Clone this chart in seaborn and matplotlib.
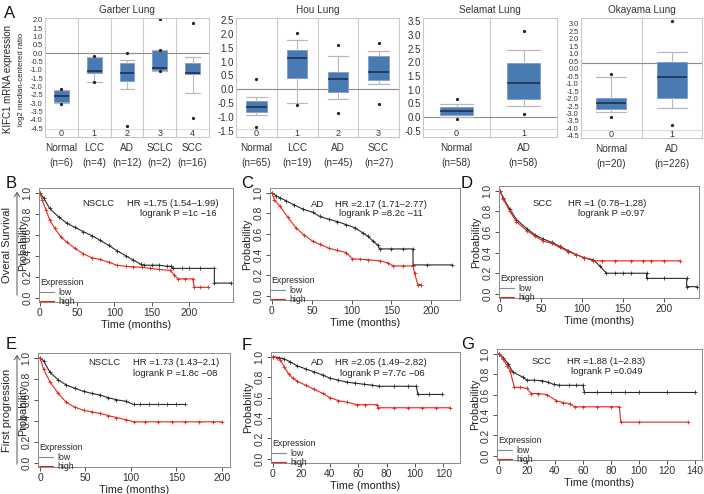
import numpy as np
import pandas as pd
import matplotlib
matplotlib.use("Agg")
import matplotlib.pyplot as plt
import matplotlib.transforms as mtransforms
from matplotlib.lines import Line2D
from matplotlib.patches import FancyArrowPatch
import seaborn as sns

# ---------------- Panel A : Oncomine box plots ----------------
garber_cats = ["Normal", "LCC", "AD", "SCLC", "SCC"]
garber_n = [6, 4, 12, 2, 16]
garber_q1 = [-2.95, -1.20, -1.69, -1.02, -1.27]
garber_med = [-2.59, -1.08, -1.20, -0.90, -1.20]
garber_q3 = [-2.23, -0.24, -0.60, 0.18, -0.60]
garber_wlo = [-3.00, -1.72, -2.17, -1.05, -2.40]
garber_whi = [-2.20, -0.20, -0.42, 0.20, -0.24]
garber_fliers = [[-2.15, -3.07], [-0.18, -1.75], [0.0, -4.4], [0.22, -1.07, 2.08], [1.8, -3.9]]

hou_cats = ["Normal", "LCC", "AD", "SCC"]
hou_n = [65, 19, 45, 27]
hou_q1 = [-0.82, 0.39, -0.11, 0.32]
hou_med = [-0.64, 1.14, 0.36, 0.64]
hou_q3 = [-0.43, 1.43, 0.64, 1.21]
hou_wlo = [-0.93, -0.50, -0.36, 0.18]
hou_whi = [-0.29, 1.79, 1.21, 1.39]
hou_fliers = [[0.36, -1.36], [2.04, -0.57], [1.60, -0.86], [1.68, -0.54]]

sel_cats = ["Normal", "AD"]
sel_n = [58, 58]
sel_q1 = [0.07, 0.65]
sel_med = [0.22, 1.24]
sel_q3 = [0.36, 1.96]
sel_wlo = [0.00, 0.40]
sel_whi = [0.47, 2.44]
sel_fliers = [[0.65, -0.07], [3.13, 0.11]]

oka_cats = ["Normal", "AD"]
oka_n = [20, 226]
oka_q1 = [-2.69, -1.96]
oka_med = [-2.29, -0.55]
oka_q3 = [-1.96, 0.45]
oka_wlo = [-2.89, -2.63]
oka_whi = [-0.55, 1.12]
oka_fliers = [[-0.35, -3.23], [3.20, -3.76]]

# ---------------- Panels B-G : Kaplan-Meier curves ----------------
b_low_t = [0, 5, 13, 25, 36, 47, 58, 70, 80, 92, 103, 115, 125, 135, 140, 150, 160, 170, 176, 178, 190, 200, 215, 234, 234, 256]
b_low_p = [1.0, 0.95, 0.85, 0.77, 0.71, 0.67, 0.63, 0.59, 0.55, 0.50, 0.45, 0.40, 0.36, 0.32, 0.31, 0.31, 0.31, 0.30, 0.30, 0.28, 0.28, 0.28, 0.28, 0.28, 0.14, 0.14]
b_high_t = [0, 3, 8, 13, 20, 28, 36, 47, 58, 70, 80, 92, 103, 115, 125, 137, 148, 160, 175, 180, 185, 195, 205, 207, 215, 226]
b_high_p = [1.0, 0.93, 0.84, 0.74, 0.66, 0.58, 0.53, 0.47, 0.42, 0.38, 0.365, 0.34, 0.31, 0.30, 0.295, 0.29, 0.28, 0.27, 0.26, 0.22, 0.18, 0.18, 0.18, 0.10, 0.10, 0.10]

c_low_t = [0, 5, 10, 18, 28, 39, 51, 60, 72, 82, 93, 104, 114, 120, 127, 133, 135, 150, 165, 177, 177, 195, 226]
c_low_p = [1.0, 0.97, 0.95, 0.92, 0.88, 0.84, 0.81, 0.77, 0.74, 0.72, 0.69, 0.66, 0.61, 0.58, 0.53, 0.49, 0.455, 0.455, 0.455, 0.455, 0.30, 0.30, 0.30]
c_high_t = [0, 3, 10, 20, 30, 40, 51, 60, 72, 82, 93, 101, 110, 120, 135, 145, 152, 165, 177, 179, 183, 187]
c_high_p = [1.0, 0.93, 0.87, 0.76, 0.66, 0.59, 0.53, 0.50, 0.46, 0.44, 0.42, 0.36, 0.355, 0.35, 0.34, 0.32, 0.29, 0.29, 0.29, 0.22, 0.11, 0.11]

d_low_t = [0, 4, 12, 20, 33, 43, 53, 63, 73, 83, 93, 103, 114, 122, 130, 140, 150, 160, 179, 179, 200, 228, 228, 240]
d_low_p = [1.0, 0.93, 0.82, 0.72, 0.63, 0.57, 0.53, 0.50, 0.46, 0.42, 0.38, 0.35, 0.33, 0.27, 0.20, 0.20, 0.20, 0.20, 0.20, 0.15, 0.15, 0.15, 0.07, 0.07]
d_high_t = [0, 4, 12, 20, 33, 43, 53, 63, 73, 83, 93, 103, 114, 125, 140, 160, 175, 185, 200, 220]
d_high_p = [1.0, 0.92, 0.80, 0.70, 0.61, 0.56, 0.51, 0.49, 0.45, 0.41, 0.38, 0.35, 0.32, 0.32, 0.32, 0.32, 0.32, 0.32, 0.32, 0.32]

e_low_t = [0, 4, 11, 20, 29, 38, 48, 57, 66, 75, 84, 95, 103, 110, 120, 130, 140, 150, 160]
e_low_p = [1.0, 0.97, 0.86, 0.79, 0.74, 0.71, 0.68, 0.66, 0.645, 0.62, 0.60, 0.585, 0.555, 0.555, 0.555, 0.555, 0.555, 0.555, 0.555]
e_high_t = [0, 4, 11, 20, 29, 38, 48, 57, 66, 75, 84, 95, 103, 115, 130, 145, 160, 175, 190, 200]
e_high_p = [1.0, 0.89, 0.77, 0.66, 0.575, 0.53, 0.50, 0.485, 0.47, 0.45, 0.43, 0.41, 0.39, 0.39, 0.39, 0.39, 0.39, 0.39, 0.39, 0.39]

f_low_t = [0, 4, 7.5, 12, 17, 23, 29, 35, 40, 46, 52, 58, 64, 70, 75, 85, 95, 101, 102, 110, 119]
f_low_p = [1.0, 0.99, 0.98, 0.95, 0.91, 0.88, 0.85, 0.82, 0.79, 0.77, 0.75, 0.74, 0.73, 0.72, 0.71, 0.71, 0.71, 0.71, 0.63, 0.63, 0.63]
f_high_t = [0, 3, 5, 8, 11, 14, 17, 23, 29, 35, 40, 46, 52, 59, 65, 73, 74, 85, 95, 105, 115, 125]
f_high_p = [1.0, 0.99, 0.97, 0.90, 0.83, 0.79, 0.76, 0.72, 0.68, 0.64, 0.60, 0.57, 0.555, 0.53, 0.53, 0.53, 0.50, 0.50, 0.50, 0.50, 0.50, 0.50]

g_low_t = [0, 3, 6.5, 10, 17, 20, 25, 31, 35, 39, 43, 50, 55, 60, 61, 70, 80, 90, 100, 120, 140]
g_low_p = [1.0, 0.96, 0.90, 0.82, 0.77, 0.74, 0.74, 0.735, 0.72, 0.70, 0.69, 0.69, 0.69, 0.69, 0.62, 0.62, 0.62, 0.62, 0.62, 0.62, 0.62]
g_high_t = [0, 3, 6, 8, 11, 15, 20, 23, 28, 34, 41, 46, 51, 54, 60, 70, 80, 86, 87, 100, 135]
g_high_p = [1.0, 0.945, 0.88, 0.83, 0.67, 0.67, 0.66, 0.61, 0.61, 0.60, 0.54, 0.52, 0.51, 0.48, 0.48, 0.48, 0.48, 0.48, 0.33, 0.33, 0.33]

km_subtypes = ["NSCLC", "AD", "SCC", "NSCLC", "AD", "SCC"]
km_hr = ["HR =1.75 (1.54\u20131.99)", "HR =2.17 (1.71\u20132.77)", "HR =1 (0.78\u20131.28)",
         "HR =1.73 (1.43\u20132.1)", "HR =2.05 (1.49\u20132.82)", "HR =1.88 (1\u20132.83)"]
km_p = ["logrank P =1c \u221216", "logrank P =8.2c \u221211", "logrank P =0.97",
        "logrank P =1.8c \u221208", "logrank P =7.7c \u221206", "logrank P =0.049"]

# ---------------- figure ----------------
sns.set_style("white")
plt.rcParams["font.family"] = ["Liberation Sans", "DejaVu Sans"]

W, H = 704, 494
fig = plt.figure(figsize=(W / 100, H / 100), dpi=100)
fig.patch.set_facecolor("white")


def px_ax(l, t, r, b):
    return fig.add_axes([l / W, 1 - b / H, (r - l) / W, (b - t) / H])


def ftext(x, y, s, **kw):
    kw.setdefault("va", "center")
    return fig.text(x / W, 1 - y / H, s, **kw)


BOX_FACE = "#4a7ab2"
BOX_EDGE = "#7d9cc6"
GRID = "#c9c9c9"


def box_panel(rect, title, cats, ns, q1, med, q3, wlo, whi, fliers, ylim, yticks,
              ref, tick_fs, width):
    ax = px_ax(*rect)
    ax.set_facecolor("white")
    k = len(cats)
    stats = []
    for i in range(k):
        stats.append(dict(med=med[i], q1=q1[i], q3=q3[i], whislo=wlo[i],
                          whishi=whi[i], fliers=fliers[i]))
    ax.set_xlim(-0.5, k - 0.5)
    ax.set_ylim(*ylim)
    band = ylim[0] + 0.065 * (ylim[1] - ylim[0])
    ax.axhline(band, color="#dddddd", lw=0.8, zorder=0)
    for i in range(k - 1):
        ax.axvline(i + 0.5, color=GRID, lw=0.8, zorder=0)
    ax.axhline(ref, color="#8c8c8c", lw=0.8, zorder=1)
    ax.bxp(stats, positions=list(range(k)), widths=width, capwidths=width,
           patch_artist=True, showfliers=True,
           boxprops=dict(facecolor=BOX_FACE, edgecolor=BOX_EDGE, lw=0.6),
           medianprops=dict(color="#1b2b45", lw=1.1),
           whiskerprops=dict(color="#b8b8b8", lw=0.8),
           capprops=dict(color="#b8b8b8", lw=0.9),
           flierprops=dict(marker="o", ms=1.3, mfc="#222222", mec="#222222"),
           zorder=2)
    ax.set_yticks(yticks)
    ax.set_yticklabels([f"{v + 0:.1f}" for v in yticks])
    ax.tick_params(axis="y", length=0, pad=1.5, labelsize=tick_fs, colors="#333333")
    ax.set_xticks(list(range(k)))
    ax.set_xticklabels([f"{c}\n(n={n})" for c, n in zip(cats, ns)])
    ax.tick_params(axis="x", length=0, pad=4, labelsize=7.2, colors="#333333")
    for lab in ax.get_xticklabels():
        lab.set_linespacing(1.65)
    tr = mtransforms.blended_transform_factory(ax.transData, ax.transAxes)
    for i in range(k):
        ax.text(i, 0.033, str(i), transform=tr, ha="center", va="center",
                fontsize=6.5, color="#333333")
    for s in ax.spines.values():
        s.set_color(GRID)
        s.set_linewidth(0.8)
    ftext((rect[0] + rect[2]) / 2, 10, title, ha="center", fontsize=7.2, color="#333333")
    return ax


box_panel((45, 18, 209, 137), "Garber Lung", garber_cats, garber_n, garber_q1, garber_med,
          garber_q3, garber_wlo, garber_whi, garber_fliers, (-5.04, 2.12),
          list(np.arange(-4.5, 2.01, 0.5)), 0.0, 5.3, 0.45)
box_panel((236, 18, 399, 137), "Hou Lung", hou_cats, hou_n, hou_q1, hou_med, hou_q3,
          hou_wlo, hou_whi, hou_fliers, (-1.72, 2.57),
          list(np.arange(-1.5, 2.51, 0.5)), 0.0, 7, 0.5)
box_panel((423, 18, 557, 137), "Selamat Lung", sel_cats, sel_n, sel_q1, sel_med, sel_q3,
          sel_wlo, sel_whi, sel_fliers, (-0.72, 3.61),
          list(np.arange(-0.5, 3.51, 0.5)), 0.0, 7, 0.5)
box_panel((581, 18, 702, 138), "Okayama Lung", oka_cats, oka_n, oka_q1, oka_med, oka_q3,
          oka_wlo, oka_whi, oka_fliers, (-4.64, 3.40),
          list(np.arange(-4.5, 3.01, 0.5)), 0.4, 5.3, 0.5)

ftext(8, 79, "KIFC1 mRNA expression", rotation=90, ha="center", fontsize=7, color="#222222")
ftext(22, 79, "log2 median-centered ratio", rotation=90, ha="center", fontsize=5.6, color="#222222")

# ---------------- KM panels ----------------
LOW = "#2a2a2a"
HIGH = "#e3261d"


def km_panel(rect, lt, lp, ht, hp, xlim, xticks, ylab_x, idx):
    ax = px_ax(*rect)
    ax.set_facecolor("white")
    for tt, pp, col in ((lt, lp, LOW), (ht, hp, HIGH)):
        df = pd.DataFrame({"t": tt, "p": pp})
        sns.lineplot(data=df, x="t", y="p", ax=ax, sort=False, estimator=None,
                     color=col, lw=0.8, marker="+", markersize=3.2,
                     markeredgewidth=0.6, markeredgecolor=col)
    ax.set_xlim(*xlim)
    ax.set_ylim(-0.04, 1.045)
    ax.set_xticks(xticks)
    ax.set_xticklabels([str(v) for v in xticks])
    yt = [0.0, 0.2, 0.4, 0.6, 0.8, 1.0]
    ax.set_yticks(yt)
    ax.set_yticklabels([f"{v:.1f}" for v in yt], rotation=90, va="center")
    ax.tick_params(axis="both", direction="out", length=3, width=0.6, labelsize=7.4,
                   pad=1.5, colors="#333333", left=True, bottom=True)
    ax.set_xlabel("Time (months)", fontsize=7.8, labelpad=1, color="#222222")
    ax.set_ylabel("Probability", fontsize=7.8, color="#222222")
    ax.yaxis.set_label_coords((ylab_x + 5 - rect[0]) / (rect[2] - rect[0]), 0.5)
    for s in ax.spines.values():
        s.set_color("#8a8a8a")
        s.set_linewidth(0.7)
    handles = [Line2D([0], [0], color="#888888", lw=0.8), Line2D([0], [0], color=HIGH, lw=0.8)]
    ax.legend(handles, ["low", "high"], title="Expression", loc="lower left",
              bbox_to_anchor=(0.0, -0.045), frameon=False, fontsize=6.3,
              title_fontsize=6.3, handlelength=1.6, handletextpad=0.5,
              labelspacing=0.05, borderpad=0.1, borderaxespad=0.0,
              alignment="left")
    return ax


km_panel((39, 188, 233, 302), b_low_t, b_low_p, b_high_t, b_high_p, (-1.3, 259),
         [0, 50, 100, 150, 200], 23, 0)
km_panel((270, 188, 460, 300), c_low_t, c_low_p, c_high_t, c_high_p, (-2.5, 236),
         [0, 50, 100, 150, 200], 247, 1)
km_panel((499, 186, 699, 298), d_low_t, d_low_p, d_high_t, d_high_p, (-1.2, 243),
         [0, 50, 100, 150, 200], 476, 2)
km_panel((38, 353, 230, 467), e_low_t, e_low_p, e_high_t, e_high_p, (-2.2, 209),
         [0, 50, 100, 150, 200], 23, 3)
km_panel((271, 352, 460, 463), f_low_t, f_low_p, f_high_t, f_high_p, (-1.4, 131.7),
         [0, 20, 40, 60, 80, 100, 120], 248, 4)
km_panel((497, 349, 702, 460), g_low_t, g_low_p, g_high_t, g_high_p, (-1.4, 145),
         [0, 20, 40, 60, 80, 100, 120, 140], 475, 5)

# annotation text (subtype / HR / logrank)
sub_xy = [(82, 203), (311, 204), (533, 203), (88, 362), (311, 362), (532, 361)]
hr_xy = [(127, 203), (335, 204), (568, 203), (133, 362), (335, 362), (567, 361)]
p_xy = [(140, 214), (339, 214), (578, 213), (133, 373), (340, 373), (571, 371)]
for i in range(6):
    ftext(sub_xy[i][0], sub_xy[i][1], km_subtypes[i], ha="left", fontsize=6.8, color="#222222")
    ftext(hr_xy[i][0], hr_xy[i][1], km_hr[i], ha="left", fontsize=6.8, color="#222222")
    ftext(p_xy[i][0], p_xy[i][1], km_p[i], ha="left", fontsize=6.8, color="#222222")

# side labels with arrows
ftext(7, 245, "Overal Survival", rotation=90, ha="center", fontsize=8, color="#222222")
ftext(7, 410, "First progression", rotation=90, ha="center", fontsize=8, color="#222222")
for y0, y1 in ((298, 189), (467, 352)):
    arr = FancyArrowPatch((17 / W, 1 - y0 / H), (17 / W, 1 - y1 / H), transform=fig.transFigure,
                          arrowstyle="->,head_length=3,head_width=2", color="#555555", lw=0.7)
    fig.add_artist(arr)

# panel letters
for letter, (x, y) in zip("ABCDEFG", [(10, 14), (11, 184), (247, 184), (467, 184),
                                       (11, 344), (247, 345), (468, 344)]):
    ftext(x, y, letter, ha="center", fontsize=12, color="#111111")

fig.savefig("out.png", dpi=100, facecolor="white")
